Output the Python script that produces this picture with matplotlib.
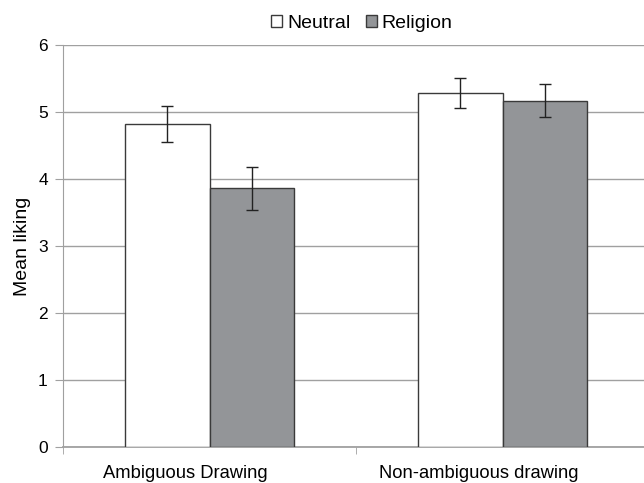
import matplotlib.pyplot as plt
import numpy as np
from matplotlib.transforms import ScaledTranslation

plt.rcParams['font.family'] = ['Liberation Sans', 'DejaVu Sans']

# data
kategooriad = ["Ambiguous Drawing", "Non-ambiguous drawing"]
neutral = [4.82, 5.28]
neutral_err = [0.27, 0.22]
religion = [3.86, 5.17]
religion_err = [0.32, 0.24]

x = np.arange(len(kategooriad))
w = 0.288

fig = plt.figure(figsize=(6.44, 4.83), dpi=100)
ax = fig.add_axes([0.098, 0.0745, 0.91, 0.8325])

ax.bar(x - w/2, neutral, w, color='white', edgecolor='#3a3a3a', linewidth=1.0,
       yerr=neutral_err, error_kw=dict(ecolor='#222222', elinewidth=1.0, capsize=4, capthick=1.0),
       label='Neutral', zorder=3)
ax.bar(x + w/2, religion, w, color='#939598', edgecolor='#3a3a3a', linewidth=1.0,
       yerr=religion_err, error_kw=dict(ecolor='#222222', elinewidth=1.0, capsize=4, capthick=1.0),
       label='Religion', zorder=3)

ax.set_xlim(-0.5, 1.5)
ax.set_ylim(0, 6)
ax.set_yticks(range(7))
ax.yaxis.grid(True, color='#a0a0a0', linewidth=1.0, zorder=0)

ax.set_xticks(x)
ax.set_xticklabels(kategooriad, fontsize=13.2)
ax.set_xticks([-0.5, 0.5, 1.5], minor=True)
ax.tick_params(axis='x', which='major', length=0, pad=13)
ax.tick_params(axis='x', which='minor', length=5, color='#a0a0a0', direction='out')
ax.tick_params(axis='y', length=6, color='#a0a0a0', labelsize=12.5, pad=5)

# sildid on originaalis veidi vasakule nihutatud
nihe = ScaledTranslation(-24/100, 0, fig.dpi_scale_trans)
for lbl in ax.get_xticklabels():
    lbl.set_transform(lbl.get_transform() + nihe)

for s in ['top', 'right']:
    ax.spines[s].set_visible(False)
ax.spines['left'].set_color('#a0a0a0')
ax.spines['bottom'].set_color('#a0a0a0')
ax.spines['bottom'].set_linewidth(1.3)

ax.set_ylabel("Mean liking", fontsize=14)
ax.yaxis.set_label_coords(-0.054, 0.5)

fig.legend(loc='upper center', bbox_to_anchor=(0.562, 0.998), ncol=2, frameon=False,
           fontsize=14, handlelength=0.57, handleheight=0.57, handletextpad=0.25,
           columnspacing=0.8, borderpad=0.2)

plt.savefig('out.png', dpi=100)
